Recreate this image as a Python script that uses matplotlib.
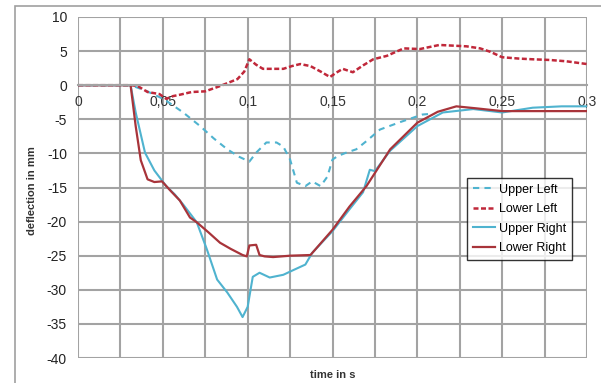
import numpy as np
import matplotlib.pyplot as plt
from matplotlib.patches import Rectangle

plt.rcParams['font.family'] = ['Liberation Sans', 'DejaVu Sans']
plt.rcParams['axes.unicode_minus'] = False

# Upper Left (dashed blue)
t_ul = [0, 0.031, 0.040, 0.051, 0.062, 0.072, 0.080, 0.088, 0.095, 0.101, 0.105, 0.111,
        0.117, 0.121, 0.125, 0.129, 0.134, 0.138, 0.143, 0.147, 0.150, 0.153, 0.158,
        0.164, 0.170, 0.178, 0.190, 0.203, 0.208]
y_ul = [0, 0, -0.8, -2.1, -4.0, -6.0, -7.8, -9.4, -10.5, -11.2, -9.9, -8.4,
        -8.4, -9.0, -10.9, -14.3, -14.8, -14.1, -14.8, -13.4, -10.9, -10.4, -9.9,
        -9.4, -8.2, -6.5, -5.4, -4.3, -4.2]

# Lower Left (dashed red)
t_ll = [0, 0.031, 0.035, 0.041, 0.048, 0.052, 0.056, 0.060, 0.067, 0.075, 0.084, 0.094,
        0.098, 0.101, 0.105, 0.109, 0.115, 0.121, 0.126, 0.131, 0.137, 0.143, 0.1485,
        0.152, 0.156, 0.162, 0.168, 0.174, 0.182, 0.192, 0.2015, 0.213, 0.221, 0.229,
        0.237, 0.243, 0.250, 0.260, 0.268, 0.278, 0.288, 0.300]
y_ll = [0, 0, -0.1, -1.0, -1.3, -2.0, -1.6, -1.4, -1.0, -0.9, -0.1, 0.9,
        2.0, 3.8, 3.0, 2.4, 2.4, 2.4, 2.8, 3.1, 2.8, 2.0, 1.2,
        1.8, 2.4, 1.9, 2.9, 3.8, 4.3, 5.4, 5.3, 5.9, 5.8, 5.7,
        5.4, 4.9, 4.1, 3.9, 3.8, 3.7, 3.5, 3.1]

# Upper Right (solid blue)
t_ur = [0, 0.031, 0.034, 0.0395, 0.045, 0.052, 0.057, 0.062, 0.070, 0.076, 0.082, 0.088,
        0.0937, 0.097, 0.100, 0.103, 0.107, 0.113, 0.121, 0.127, 0.134, 0.138, 0.150,
        0.160, 0.168, 0.172, 0.175, 0.184, 0.200, 0.215, 0.233, 0.250, 0.268, 0.285, 0.300]
y_ur = [0, 0, -4.0, -9.9, -12.5, -14.8, -16.0, -17.5, -20.1, -24.1, -28.5, -30.4,
        -32.5, -34.0, -32.5, -28.1, -27.5, -28.2, -27.8, -27.1, -26.3, -24.6, -21.4,
        -18.2, -15.7, -12.4, -12.6, -9.6, -6.0, -4.0, -3.5, -4.0, -3.3, -3.1, -3.1]

# Lower Right (solid red)
t_lr = [0, 0.031, 0.034, 0.037, 0.041, 0.045, 0.0495, 0.055, 0.060, 0.066, 0.070, 0.077,
        0.0837, 0.090, 0.097, 0.0995, 0.101, 0.105, 0.107, 0.110, 0.115, 0.125, 0.137,
        0.150, 0.160, 0.170, 0.184, 0.200, 0.212, 0.223, 0.235, 0.250, 0.270, 0.300]
y_lr = [0, 0, -6.0, -11.0, -13.8, -14.2, -14.1, -15.6, -16.9, -19.4, -20.1, -21.6,
        -23.1, -24.0, -24.9, -25.1, -23.5, -23.4, -24.9, -25.1, -25.2, -25.0, -24.9,
        -21.2, -17.8, -14.8, -9.4, -5.5, -3.9, -3.1, -3.4, -3.8, -3.8, -3.8]

x_ticks = [0, 0.05, 0.1, 0.15, 0.2, 0.25, 0.3]
x_labels = ['0', '0,05', '0,1', '0,15', '0,2', '0,25', '0,3']
y_ticks = [10, 5, 0, -5, -10, -15, -20, -25, -30, -35, -40]

blue = '#4fb3cf'
red_d = '#c0283a'
red_s = '#a8343a'
grid_c = '#a3a3a3'

fig = plt.figure(figsize=(6.01, 3.83), dpi=100)
ax = fig.add_axes([78/601, 1-358/383, 509/601, 341/383])

# outer chart frame
fig.patches.append(Rectangle((15/601, -0.02), 1.0, 1-6/383+0.02, transform=fig.transFigure,
                             fill=False, edgecolor='#a0a0a0', lw=1.2))

ax.plot(t_ul, y_ul, '--', color=blue, lw=1.5, dashes=(3, 2.5), label='Upper Left')
ax.plot(t_ll, y_ll, '--', color=red_d, lw=1.8, dashes=(2, 1), label='Lower Left')
ax.plot(t_ur, y_ur, '-', color=blue, lw=1.5, label='Upper Right')
ax.plot(t_lr, y_lr, '-', color=red_s, lw=1.6, label='Lower Right')

ax.set_xlim(0, 0.3)
ax.set_ylim(-40, 10)
ax.set_xticks(x_ticks)
ax.set_xticklabels(x_labels)
ax.set_xticks(np.arange(0.025, 0.3, 0.05), minor=True)
ax.set_yticks(y_ticks)
ax.grid(True, which='both', color=grid_c, lw=1.5)
ax.set_axisbelow(True)
ax.tick_params(axis='both', which='both', length=0, labelsize=10, colors='#222222')
ax.tick_params(axis='x', pad=7)
ax.tick_params(axis='y', pad=8)

for s in ['top', 'right', 'left']:
    ax.spines[s].set_visible(False)
ax.spines['bottom'].set_position(('data', 0))
ax.spines['bottom'].set_color(grid_c)
ax.spines['bottom'].set_linewidth(1.5)
for lbl in ax.get_xticklabels():
    lbl.set_color('#333333')

ax.set_xlabel('time in s', fontsize=8, fontweight='bold', color='#333333')
ax.xaxis.set_label_coords(0.5, -0.035)
ax.set_ylabel('deflection in mm', fontsize=8, fontweight='bold', color='#333333')
ax.yaxis.set_label_coords(-0.08, 0.49)

leg = ax.legend(loc='upper left', bbox_to_anchor=(0.764, 0.528), fontsize=9,
                frameon=True, fancybox=False, handlelength=1.8, handletextpad=0.3,
                borderpad=0.45, labelspacing=0.6, borderaxespad=0)
leg.get_frame().set_edgecolor('black')
leg.get_frame().set_linewidth(1.0)

fig.savefig('out.png', dpi=100)
